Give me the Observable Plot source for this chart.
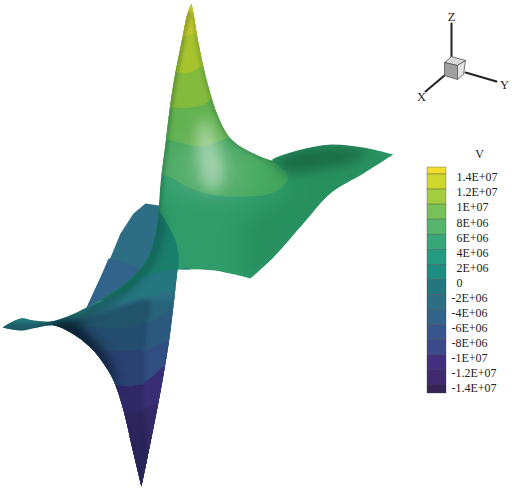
<!DOCTYPE html>
<html><head><meta charset="utf-8">
<script src="https://cdn.jsdelivr.net/npm/d3@7"></script>
<script src="https://cdn.jsdelivr.net/npm/@observablehq/plot@0.6"></script>
<style>html,body{margin:0;padding:0;background:#fff;overflow:hidden}svg{display:block}</style>
</head><body><div id="chart"></div>
<script>
// legend
const levels=[1.4e7,1.2e7,1e7,8e6,6e6,4e6,2e6,0,-2e6,-4e6,-6e6,-8e6,-1e7,-1.2e7,-1.4e7];
const tickLabels=["1.4E+07","1.2E+07","1E+07","8E+06","6E+06","4E+06","2E+06","0","-2E+06","-4E+06","-6E+06","-8E+06","-1E+07","-1.2E+07","-1.4E+07"];
const colours=["#352456","#3f2a70","#42307f","#3c4a8c","#38558e","#32638a","#2d6e85","#25777f","#1f8c82","#249a80","#39a677","#55b56b","#78c158","#a3cc3f","#cdd72e","#f3dd2c"];

// surface outlines
const backSheet=[[145,203],[165,206],[170,240],[150,290],[86,308],[93,292],[100,277],[110,257],[120,233],[133,213],[145,203]];
const backLower=[[108,258],[120,261],[133,265],[150,272],[160,300],[80,320],[100,277],[108,258]];
const frontOutline=[[191,3],[193,13],[198,43],[207,83],[218,117],[230,138],[247,150],[272,160],[272,159],[297,150],[330,144],[363,147],[393,154],[393,154],[363,173],[330,193],[303,223],[273,257],[250,278],[250,278],[213,270],[177,269],[177,269],[170,330],[162,380],[153,427],[141,486],[141,486],[133,453],[123,410],[113,380],[103,363],[90,347],[70,332],[53,325],[37,327],[20,330],[2,327],[2,327],[20,318],[33,320],[50,321],[67,316],[86,307],[110,293],[130,278],[147,257],[155,233],[158,210],[160,183],[165,143],[169,110],[173,83],[182,37],[187,13],[191,3]];

// contour bands: each is the part of the surface on one side of a level line
const bandPeak7=[[120,175],[165,175],[190,188],[217,195],[247,196],[270,193],[285,182],[287,175],[277,165],[272,160],[290,120],[230,0],[120,0]];
const bandPeak9=[[120,135],[166,139],[183,143],[203,146],[225,138],[232,137],[260,100],[230,0],[120,0]];
const bandPeak11=[[130,106],[169,107],[190,107],[205,103],[212,97],[225,90],[230,0],[130,0]];
const bandPeak13=[[140,74],[175,72],[188,72],[203,65],[225,55],[230,0],[140,0]];
const bandPeak15=[[150,40],[181,38],[190,34],[198,33],[220,30],[220,0],[150,0]];
const bandOval=[[155,205],[163,217],[175,240],[178,257],[178,270],[178,300],[100,300],[60,300],[86,306],[110,292],[130,278],[147,257],[155,233]];
const bandA=[[0,300],[70,312],[86,307],[110,297],[127,290],[148,275],[178,269],[190,269],[190,500],[0,500]];
const bandB=[[40,345],[65,322],[85,316],[110,305],[148,297],[173,290],[190,283],[190,500],[40,500]];
const bandC=[[50,350],[68,334],[83,327],[117,327],[148,322],[170,308],[190,295],[190,500],[50,500]];
const bandDleft=[[60,335],[100,350],[120,351],[144,353],[144,500],[60,500]];
const bandDright=[[144,500],[144,353],[155,346],[167,340],[190,325],[190,500]];
const bandEleft=[[100,385],[115,385],[130,386],[142,385],[142,500],[100,500]];
const bandEright=[[142,500],[142,385],[152,376],[162,367],[190,350],[190,500]];
const bandFleft=[[110,412],[125,412],[141,413],[141,500],[110,500]];
const bandFright=[[141,500],[141,413],[157,402],[190,385],[190,500]];
const rightOfCrease=[[148,300],[146,330],[143,400],[141,486],[190,500],[190,300]];
const leftOfCrease=[[0,322],[70,322],[110,310],[148,300],[146,330],[143,400],[141,486],[60,500],[0,400]];
const wingOval=[[231,163],[243,157],[263,158],[278,165],[287,177],[282,188],[267,194],[253,193],[240,183],[231,172],[231,163]];

// light and shadow
const highlight=[[198,122],[206,120],[217,142],[224,170],[218,188],[206,188],[197,160],[198,122]];
const glow=[[175,145],[240,150],[250,190],[170,190],[175,145]];
const greening=[[150,0],[290,0],[420,130],[400,180],[260,290],[176,272],[150,200]];
const shadowWing=[[272,158],[297,149],[330,146],[368,149],[350,162],[310,170],[285,172],[272,158]];
const wingBody=[[275,150],[400,150],[380,180],[300,240],[250,285],[240,230],[290,190]];
const shadowFold=[[40,322],[67,318],[86,309],[110,295],[130,280],[147,260],[155,235],[158,212],[162,214],[160,240],[152,262],[130,288],[100,310],[70,326],[40,326]];
const shadowCusp=[[50,322],[72,322],[88,335],[104,355],[116,384],[108,378],[92,356],[72,338],[50,328]];
const limbLeft=[[187,13],[182,37],[173,83],[169,110],[165,143],[160,183],[158,210]];
const limbRight=[[193,13],[198,43],[207,83],[218,117],[230,138],[247,150],[272,160]];

// orientation triad
const axisZ=[[451,23],[451,57]];
const axisY=[[465,72],[496,81]];
const axisX=[[444,75],[425,91]];
const cubeTop=[[451,56],[465,60],[457,65],[444,62]];
const cubeLeft=[[444,62],[457,65],[457,79],[444,75]];
const cubeRight=[[457,65],[465,60],[463,74],[457,79]];
const axisLabels=[{t:"Z",p:[451,16]},{t:"Y",p:[504,84]},{t:"X",p:[421,96]}];

const lx=d3.scaleLinear().domain([0,1]).range([427,446]);
const ly=d3.scaleLinear().domain([1.4e7,-1.4e7]).range([174,385]);
const cells=[1.5e7,...levels.map(v=>v-1e6)].map((v,i,a)=>({v,top:i?ly(levels[i-1]):167,bot:i<levels.length?ly(levels[i]):393}));

const clip=(index,scales,values,dims,ctx,next)=>{const g=next(index,scales,values,dims,ctx);g.setAttribute("clip-path","url(#front)");return g;};
const X=d=>d[0],Y=d=>d[1];
const band=(pts,value)=>Plot.line(pts,{x:X,y:Y,fill:()=>value,stroke:"none",curve:"catmull-rom",render:clip});
const tint=(pts,fill,opacity,blur)=>Plot.line(pts,{x:X,y:Y,fill,fillOpacity:opacity,stroke:"none",curve:"catmull-rom",render:clip,...(blur?{imageFilter:`blur(${blur}px)`}:{})});
const limb=(pts,w,op,blur)=>Plot.line(pts,{x:X,y:Y,stroke:"#0b3a22",strokeWidth:w,strokeOpacity:op,curve:"catmull-rom",render:clip,imageFilter:`blur(${blur}px)`});
const plain=(pts,value)=>Plot.line(pts,{x:X,y:Y,fill:()=>value,stroke:"none",curve:"linear"});

const chart=Plot.plot({
  width:512,height:491,margin:0,
  x:{domain:[0,512],range:[0,512],axis:null},
  y:{domain:[0,491],range:[0,491],axis:null},
  color:{type:"threshold",domain:[...levels].reverse(),range:colours},
  marks:[
    (i,{x,y})=>{
      const ns="http://www.w3.org/2000/svg";
      const defs=document.createElementNS(ns,"defs"),cp=document.createElementNS(ns,"clipPath"),p=document.createElementNS(ns,"path");
      cp.setAttribute("id","front");
      p.setAttribute("d",d3.line().x(d=>x(d[0])).y(d=>y(d[1])).curve(d3.curveCatmullRom)(frontOutline)+"Z");
      cp.appendChild(p);defs.appendChild(cp);return defs;
    },
    // back sheet
    plain(backSheet,-3e6),
    plain(backLower,-5e6),
    // front sheet
    band(frontOutline,5e6),
    band(bandPeak7,7e6),band(bandPeak9,9e6),band(bandPeak11,1.1e7),band(bandPeak13,1.3e7),band(bandPeak15,1.5e7),
    tint(wingOval,"#58b868",0.3),
    tint(greening,"#0d7a35",0.2),
    tint(wingBody,"#0c6a3a",0.22,10),
    band(bandOval,1e6),
    tint(bandOval,"#0d5f3a",0.3),
    band(bandA,-1e6),band(bandB,-3e6),band(bandC,-5e6),
    band(bandDleft,-7e6),band(bandDright,-7e6),
    band(bandEleft,-1.1e7),band(bandEright,-1.1e7),
    band(bandFleft,-1.3e7),band(bandFright,-1.3e7),
    tint(leftOfCrease,"#07182e",0.3,2),
    tint(rightOfCrease,"#07283a",0.15,2),
    tint(shadowWing,"#0c4a30",0.5,6),
    tint(shadowFold,"#03181c",0.4,4),
    tint(shadowCusp,"#020814",0.75,6),
    limb(limbLeft,5,0.35,2),
    limb(limbRight,4,0.25,2),
    tint(glow,"#ffffff",0.1,10),
    tint(highlight,"#ffffff",0.42,7),
    // colour legend
    Plot.rect(cells,{x1:()=>lx(0),x2:()=>lx(1),y1:"top",y2:"bot",fill:"v",stroke:"#3a3a3a",strokeOpacity:0.45,strokeWidth:0.7}),
    Plot.text(levels,{x:v=>v<0?451:456,y:v=>ly(v)+3,text:(v,i)=>tickLabels[i],textAnchor:"start",fontFamily:"Liberation Serif",fontSize:12,fill:"#222"}),
    Plot.text(["V"],{x:()=>479,y:()=>154,text:d=>d,fontFamily:"Liberation Serif",fontSize:12,fill:"#222"}),
    // triad
    Plot.line(axisZ,{x:X,y:Y,stroke:"#222",strokeWidth:2}),
    Plot.line(axisY,{x:X,y:Y,stroke:"#222",strokeWidth:2}),
    Plot.line(axisX,{x:X,y:Y,stroke:"#222",strokeWidth:2}),
    Plot.line([...cubeTop,cubeTop[0]],{x:X,y:Y,fill:"#d9d9d9",stroke:"#555",strokeWidth:0.8}),
    Plot.line([...cubeLeft,cubeLeft[0]],{x:X,y:Y,fill:"#a0a0a0",stroke:"#555",strokeWidth:0.8}),
    Plot.line([...cubeRight,cubeRight[0]],{x:X,y:Y,fill:"#e4e4e4",stroke:"#555",strokeWidth:0.8}),
    Plot.text(axisLabels,{x:d=>d.p[0],y:d=>d.p[1],text:"t",fontFamily:"Liberation Serif",fontSize:12.5,fill:"#222"})
  ]
});
document.getElementById("chart").appendChild(chart);
</script></body></html>
